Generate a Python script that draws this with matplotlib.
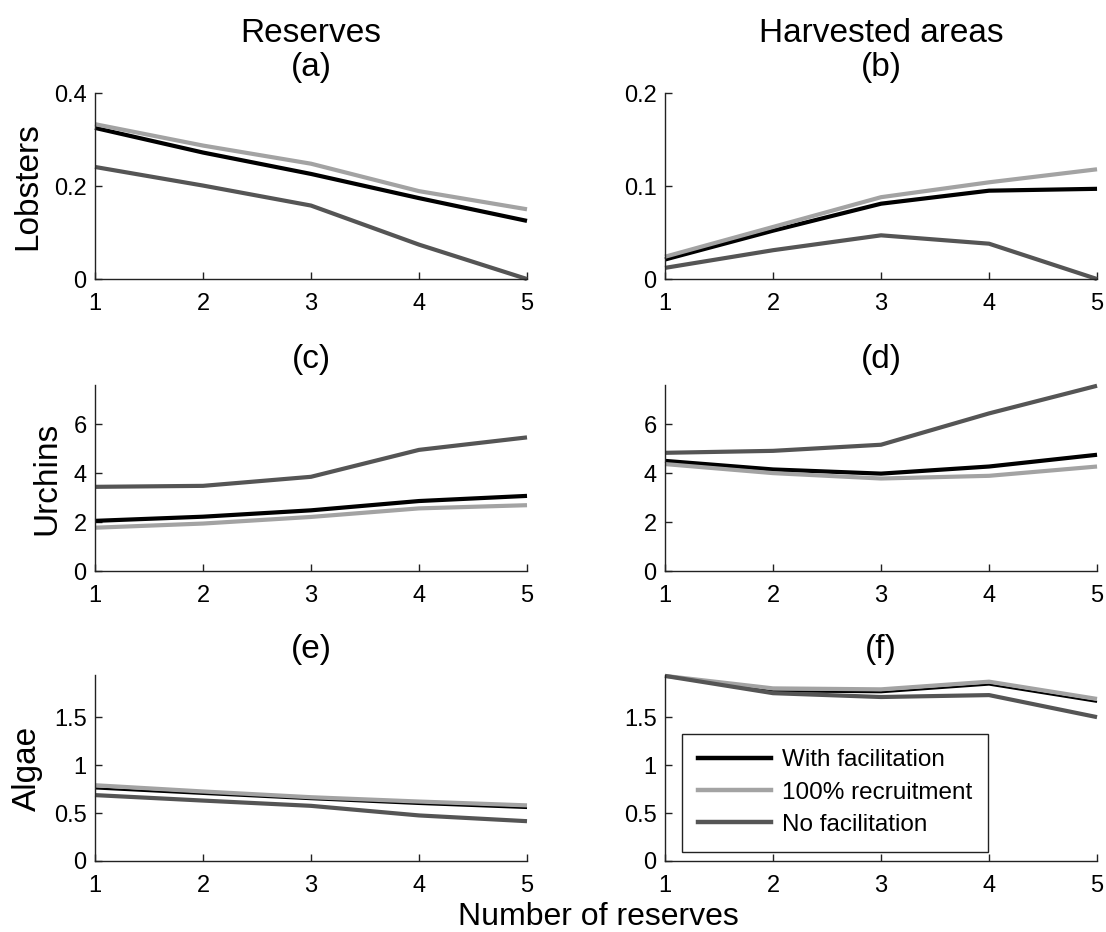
from matplotlib import pyplot as plt
from matplotlib.lines import Line2D
from matplotlib.ticker import FuncFormatter

plt.rcParams['font.family'] = ['Liberation Sans', 'DejaVu Sans']

# 保护区个数
reserves = [1, 2, 3, 4, 5]
series_names = ['With facilitation', '100% recruitment', 'No facilitation']
series_colors = ['#000000', '#a3a3a3', '#555555']

# 龙虾 (a) 保护区 (b) 捕捞区
lob_res_with = [0.325, 0.272, 0.226, 0.174, 0.125]
lob_res_full = [0.333, 0.287, 0.248, 0.189, 0.150]
lob_res_nofac = [0.241, 0.201, 0.158, 0.074, 0.0]
lob_har_with = [0.021, 0.052, 0.081, 0.095, 0.097]
lob_har_full = [0.024, 0.056, 0.088, 0.104, 0.118]
lob_har_nofac = [0.012, 0.031, 0.047, 0.038, 0.0]

# 海胆 (c) (d)
urc_res_with = [2.05, 2.22, 2.48, 2.86, 3.07]
urc_res_full = [1.77, 1.94, 2.21, 2.56, 2.69]
urc_res_nofac = [3.44, 3.48, 3.85, 4.95, 5.46]
urc_har_with = [4.50, 4.15, 3.98, 4.27, 4.75]
urc_har_full = [4.37, 4.00, 3.78, 3.89, 4.27]
urc_har_nofac = [4.83, 4.91, 5.16, 6.44, 7.57]

# 藻类 (e) (f)
alg_res_with = [0.757, 0.70, 0.645, 0.595, 0.553]
alg_res_full = [0.79, 0.725, 0.665, 0.62, 0.58]
alg_res_nofac = [0.687, 0.63, 0.575, 0.475, 0.415]
alg_har_with = [1.93, 1.77, 1.76, 1.84, 1.66]
alg_har_full = [1.93, 1.80, 1.79, 1.87, 1.69]
alg_har_nofac = [1.93, 1.75, 1.71, 1.73, 1.50]

panels = [
    ('(a)', [lob_res_with, lob_res_full, lob_res_nofac], 0.4, [0, 0.2, 0.4]),
    ('(b)', [lob_har_with, lob_har_full, lob_har_nofac], 0.2, [0, 0.1, 0.2]),
    ('(c)', [urc_res_with, urc_res_full, urc_res_nofac], 7.6, [0, 2, 4, 6]),
    ('(d)', [urc_har_with, urc_har_full, urc_har_nofac], 7.6, [0, 2, 4, 6]),
    ('(e)', [alg_res_with, alg_res_full, alg_res_nofac], 1.94, [0, 0.5, 1, 1.5]),
    ('(f)', [alg_har_with, alg_har_full, alg_har_nofac], 1.94, [0, 0.5, 1, 1.5]),
]
row_labels = ['Lobsters', 'Urchins', 'Algae']
col_titles = ['Reserves', 'Harvested areas']

fig = plt.figure(figsize=(11.06, 9.32), dpi=100)
lefts = [0.0859, 0.6013]
bottoms = [0.7006, 0.3873, 0.0762]
widths = [0.3906, 0.3906]
height = 0.1996

axes = []
for i, (tag, data, ytop, yticks) in enumerate(panels):
    row, col = i // 2, i % 2
    ax = fig.add_axes([lefts[col], bottoms[row], widths[col], height])
    axes.append(ax)
    # 最下面一行黑线较细
    widths_lw = [3.0, 3.0, 3.0] if row < 2 else [1.6, 3.0, 3.0]
    for vals, c, lw in zip(data, series_colors, widths_lw):
        ax.plot(reserves, vals, color=c, lw=lw, solid_capstyle='butt',
                clip_on=False)
    ax.set_xlim(1, 5)
    ax.set_ylim(0, ytop)
    ax.set_xticks(reserves)
    ax.set_yticks(yticks)
    ax.yaxis.set_major_formatter(FuncFormatter(lambda v, p: '%g' % v))
    for s in ['top', 'right']:
        ax.spines[s].set_visible(False)
    for s in ['left', 'bottom']:
        ax.spines[s].set_color('#222222')
        ax.spines[s].set_linewidth(1.0)
    ax.tick_params(direction='in', length=5, width=1, labelsize=17,
                   color='#222222')
    ax.tick_params(axis='x', pad=10)
    ax.tick_params(axis='y', pad=6)
    if row == 0:
        ax.set_title(col_titles[col] + '\n' + tag, fontsize=24, pad=12,
                     linespacing=1.15)
    else:
        ax.set_title(tag, fontsize=24, pad=12)
    if col == 0:
        ax.set_ylabel(row_labels[row], fontsize=24, labelpad=8)

handles = [Line2D([], [], color=c, lw=3.2) for c in series_colors]
leg = axes[5].legend(handles, series_names, loc='lower left',
                     bbox_to_anchor=(0.04, 0.05), fontsize=17.5,
                     handlelength=3.0, handletextpad=0.45, fancybox=False,
                     framealpha=1, edgecolor='#222222', borderpad=0.65,
                     labelspacing=0.42, borderaxespad=0)
leg.get_frame().set_linewidth(1.0)

fig.text(0.541, 0.0075, 'Number of reserves', fontsize=23,
         ha='center', va='baseline')

plt.savefig('out.png', dpi=100)
